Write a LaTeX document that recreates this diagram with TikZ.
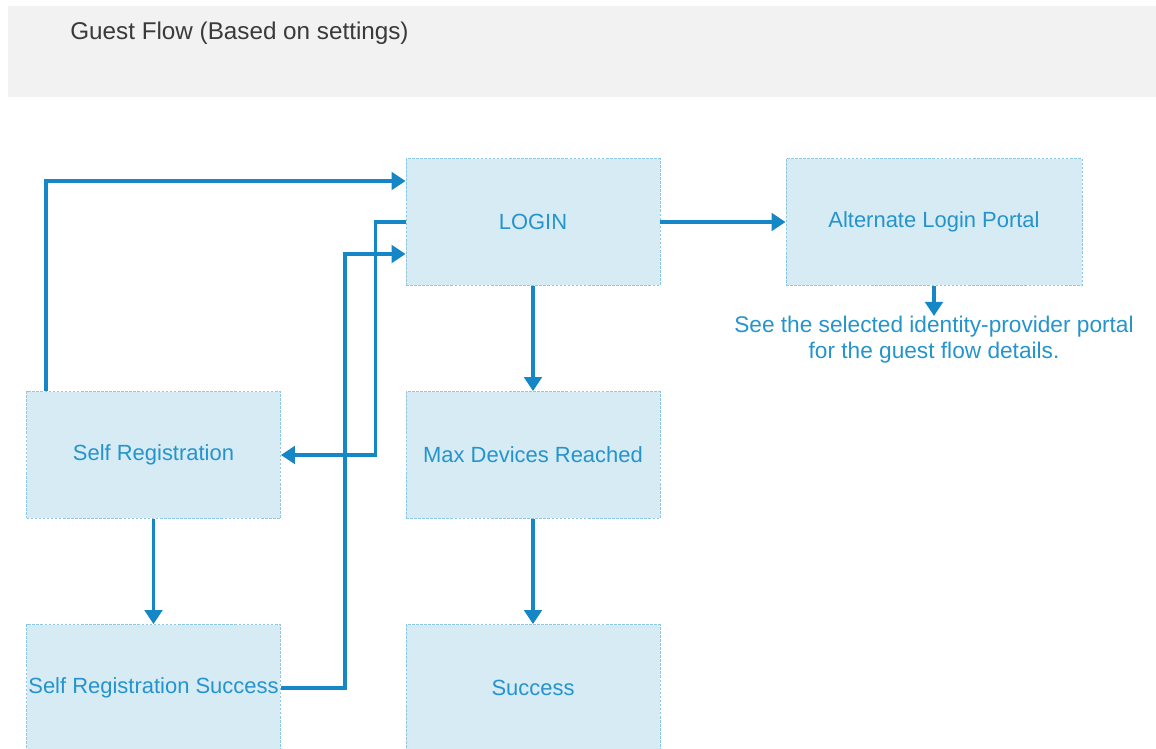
\documentclass[tikz,border=0pt]{standalone}
\usepackage{fontspec}
\setmainfont{Liberation Sans}
\usetikzlibrary{arrows.meta}
\usetikzlibrary{positioning}
\definecolor{headgray}{HTML}{F2F2F2}
\definecolor{titlegray}{HTML}{3A3A3A}
\definecolor{boxfill}{HTML}{D6EBF4}
\definecolor{boxline}{HTML}{8CC8E4}
\definecolor{boxtext}{HTML}{2594CC}
\definecolor{flowblue}{HTML}{1586C6}

\begin{document}
\begin{tikzpicture}[x=0.02cm,y=-0.02cm,
		stage/.style={draw=boxline,fill=boxfill,dash pattern=on 1.5pt off 0.8pt,line width=0.5pt,
			minimum width=5.08cm,minimum height=2.54cm,inner sep=0pt,text=boxtext,
			font=\fontsize{12.5}{15}\selectfont},
		flow/.style={draw=flowblue,line width=1.9pt,-{Triangle[length=8pt,width=10pt]}}
	]
			\useasboundingbox (0,0) rectangle (1156,749);

			% header band
			\fill[headgray] (8,6) rectangle (1156,97);
			\node[anchor=west,inner sep=0pt,text=titlegray,font=\fontsize{13.8}{16}\selectfont] (title) at (70,33) {Guest Flow (Based on settings)};

			% boxes
			\node[stage] (login) at (533,222) {LOGIN};
			\node[stage,minimum width=5.92cm] (alt) at (934,222) {Alternate Login Portal};
			\node[stage] (selfreg) at (153.5,455) {Self Registration};
			\node[stage] (maxdev) at (533,455) {Max Devices Reached};
			\node[stage] (selfsucc) at (153.5,688) {Self Registration Success};
			\node[stage] (success) at (533,688) {Success};

			\node[anchor=north,text=boxtext,align=center,inner sep=0pt,
				font=\fontsize{12.9}{14.7}\selectfont] (note) at (934,316)
				{See the selected identity-provider portal\\for the guest flow details.};

			% connectors
			\draw[flow] ([xshift=0.4cm]selfreg.north west) |- ([yshift=0.82cm]login.west);
			\draw[flow] (login.west) -- ++(-30,0) |- (selfreg.east);
			\draw[flow] (selfsucc.east) -- ++(64,0) |- ([yshift=-0.64cm]login.west);
			\draw[flow] (login) -- (alt);
			\draw[flow] (login) -- (maxdev);
			\draw[flow] (alt) -- (note);
			\draw[flow] (selfreg) -- (selfsucc);
			\draw[flow] (maxdev) -- (success);
		\end{tikzpicture}
\end{document}
